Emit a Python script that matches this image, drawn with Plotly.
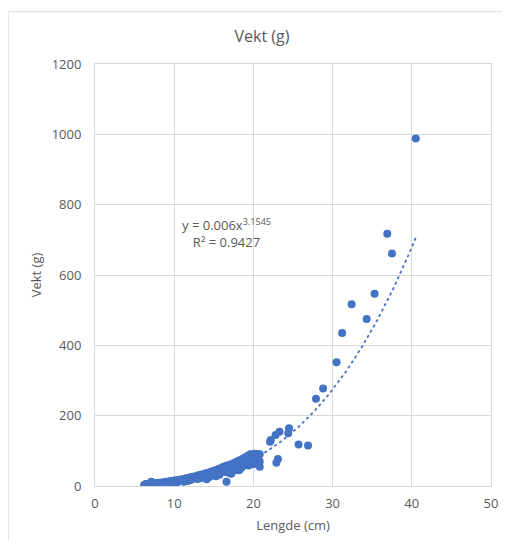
import numpy as np
import plotly.graph_objects as go

# Lengde (cm) and Vekt (g)
lengde = [6.2, 6.3, 6.4, 6.5, 6.6, 6.8, 6.9, 7.0, 7.1, 7.2, 7.3, 7.5, 7.6, 7.7, 7.9,
          8.0, 8.1, 8.2, 8.4, 8.5, 8.6, 8.8, 8.9, 9.0, 9.1, 9.3, 9.4, 9.5, 9.6, 9.8,
          9.9, 10.0, 10.1, 10.2, 10.4, 10.5, 10.6, 10.8, 10.9, 11.0, 11.1, 11.3, 11.4,
          11.5, 11.6, 11.8, 11.9, 12.0, 12.2, 12.3, 12.4, 12.6, 12.7, 12.8, 13.0,
          13.1, 13.2, 13.4, 13.5, 13.6, 13.8, 13.9, 14.0, 14.2, 14.3, 14.4, 14.6,
          14.7, 14.8, 15.0, 15.1, 15.2, 15.4, 15.5, 15.6, 15.8, 15.9, 16.0, 16.1,
          16.2, 16.3, 16.5, 16.6, 16.7, 16.8, 17.0, 17.1, 17.2, 17.4, 17.5, 17.7,
          17.8, 18.0, 18.1, 18.3, 18.4, 18.6, 18.7, 18.9, 19.0, 19.2, 19.3, 19.5,
          19.6, 19.8, 20.0, 20.1, 20.3, 20.5, 20.8, 20.8, 16.6, 17.2, 18.2, 19.4,
          20.0, 20.8, 22.1, 22.2, 22.8, 23.3, 24.4, 24.5, 22.9, 23.1, 25.7, 26.9,
          27.9, 28.8, 30.5, 31.2, 32.4, 34.3, 35.3, 36.9, 37.5, 40.5,
          7.0, 8.0, 9.2, 10.3, 11.2, 12.1, 13.3, 14.1, 15.3, 6.5, 7.4, 8.7,
          11.7, 12.9, 14.5, 15.7, 16.4, 17.6, 18.5, 19.1, 19.9, 17.9, 18.8, 16.9]
vekt = [2, 4, 3, 5, 3, 4, 6, 5, 12, 6, 5, 7, 6, 8, 7,
        6, 9, 7, 8, 10, 9, 11, 8, 12, 10, 12, 13, 11, 14, 12,
        15, 13, 14, 16, 14, 17, 15, 18, 16, 19, 17, 20, 18,
        22, 19, 23, 21, 24, 22, 26, 23, 27, 25, 28, 30,
        27, 31, 29, 33, 30, 34, 32, 36, 33, 38, 35, 40,
        37, 42, 39, 44, 41, 46, 43, 48, 45, 50, 52, 47,
        55, 49, 56, 51, 58, 53, 60, 55, 62, 58, 65, 60,
        68, 63, 72, 66, 75, 69, 78, 72, 82, 75, 86, 79,
        90, 83, 88, 92, 86, 91, 90, 55, 12, 35, 45, 58,
        62, 70, 126, 131, 145, 154, 150, 164, 66, 77, 118, 115,
        248, 277, 352, 435, 517, 475, 547, 717, 661, 988,
        3, 8, 5, 9, 12, 17, 22, 19, 28, 6, 9, 4,
        14, 20, 26, 32, 40, 44, 52, 60, 70, 50, 64, 38]

# Power trendline as labelled in the chart: y = a * x^b
trend_a = 0.006
trend_b = 3.1545
r2 = 0.9427

x_ticks = [0, 10, 20, 30, 40, 50]
y_ticks = [0, 200, 400, 600, 800, 1000, 1200]

blue = "#4472C4"
grid = "#D9D9D9"
txt = "#595959"
font = "Open Sans"

tx = np.linspace(min(lengde), max(lengde), 200)
ty = trend_a * tx ** trend_b

fig = go.Figure()
fig.add_trace(go.Scatter(
    x=tx, y=ty, mode="lines",
    line=dict(color=blue, width=1.8, dash="dot"),
    hoverinfo="skip", showlegend=False))
fig.add_trace(go.Scatter(
    x=lengde, y=vekt, mode="markers",
    marker=dict(color=blue, size=8, line=dict(width=0)),
    showlegend=False))

fig.add_annotation(
    x=16.6, y=719, xref="x", yref="y",
    text=f"y = {trend_a}x<sup>{trend_b}</sup><br>R² = {r2}",
    showarrow=False, font=dict(family=font, size=13, color=txt),
    align="center")

# outer chart border (right and bottom edges fall outside the picture)
fig.add_shape(type="rect", xref="paper", yref="paper",
              x0=-0.2194, x1=1.1, y0=-0.3, y1=1.124,
              line=dict(color=grid, width=1), layer="below")

# the page body adds an 8px margin on each side; keep the figure inside the window
W, H = 494, 533
fig.update_layout(
    width=W, height=H,
    margin=dict(l=87, r=10.5, t=55.5, b=55, autoexpand=False),
    paper_bgcolor="white", plot_bgcolor="white",
    title=dict(text="Vekt (g)", x=254 / W, xanchor="center",
               y=1 - 28 / H, yanchor="middle", yref="container",
               font=dict(family=font, size=16, color=txt)),
    font=dict(family=font, size=13, color=txt),
)
fig.update_xaxes(
    range=[0, 50], tickvals=x_ticks, showgrid=True, gridcolor=grid,
    gridwidth=1, zeroline=False, showline=True, linecolor=grid, mirror=True,
    ticks="", ticklabelstandoff=5, automargin=False,
    title=dict(text="Lengde (cm)", font=dict(family=font, size=13, color=txt), standoff=10),
    tickfont=dict(family=font, size=13, color=txt))
fig.update_yaxes(
    range=[0, 1200], tickvals=y_ticks, showgrid=True, gridcolor=grid,
    gridwidth=1, zeroline=False, showline=True, linecolor=grid, mirror=True,
    ticks="", ticklabelstandoff=10, automargin=False,
    title=dict(text="Vekt (g)", font=dict(family=font, size=13, color=txt), standoff=7),
    tickfont=dict(family=font, size=13, color=txt))

fig.write_html("out.html")
